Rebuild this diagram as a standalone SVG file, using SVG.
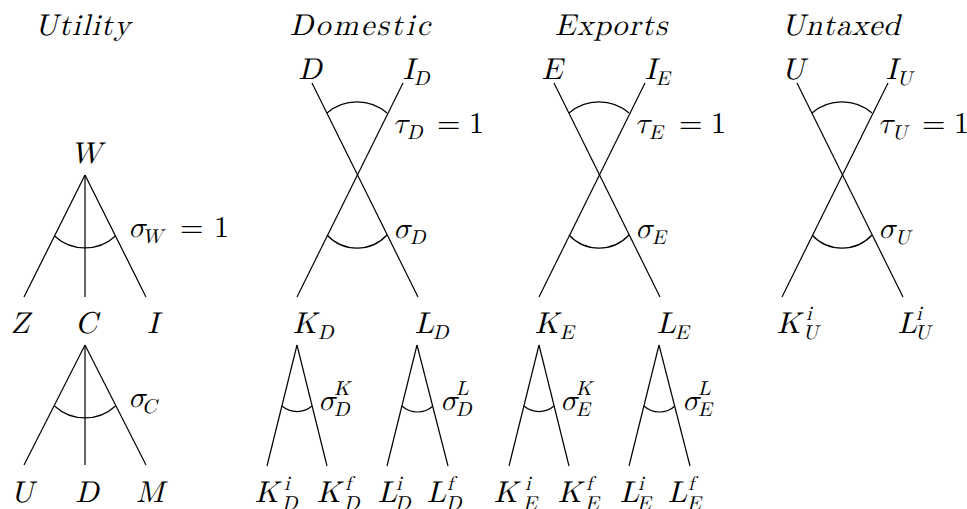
<svg xmlns="http://www.w3.org/2000/svg" width="967" height="509" viewBox="0 0 967 509" font-family="Latin Modern Math, Latin Modern Roman, CMU Serif, Liberation Serif, Nimbus Roman, TeX Gyre Termes, FreeSerif, Noto Serif, DejaVu Serif, Times New Roman, serif">
<style>
text{font-style:italic;font-size:30px;fill:#000}
.s{font-size:20px}
.u{font-style:normal}
.m{text-anchor:middle}
line,path{stroke:#000;stroke-width:1.2;fill:none}
</style>
<rect width="967" height="509" fill="#fff"/>
<g id="titles">
<text x="35" y="35" textLength="95" lengthAdjust="spacing">Utility</text>
<text x="290" y="35" textLength="140" lengthAdjust="spacing">Domestic</text>
<text x="555" y="35" textLength="112" lengthAdjust="spacing">Exports</text>
<text x="782" y="35" textLength="118" lengthAdjust="spacing">Untaxed</text>
</g>
<g id="connectors">
<line x1="85" y1="175" x2="24" y2="297"/>
<line x1="85" y1="175" x2="85" y2="297"/>
<line x1="85" y1="175" x2="146" y2="297"/>
<path d="M54.5,236 A45,45 0 0 0 115.5,236"/>
<line x1="85" y1="345" x2="24" y2="465"/>
<line x1="85" y1="345" x2="85" y2="465"/>
<line x1="85" y1="345" x2="146" y2="465"/>
<path d="M54.5,406 A45,45 0 0 0 115.5,406"/>
<g id="x-domestic">
<line x1="312" y1="83" x2="418" y2="297"/>
<line x1="403" y1="83" x2="297" y2="297"/>
<path d="M327,113 A46,46 0 0 1 387,113"/>
<path d="M327,235 A41,41 0 0 0 387,235"/>
<line x1="297" y1="345" x2="267" y2="466"/>
<line x1="297" y1="345" x2="327" y2="466"/>
<path d="M282,406 A23,23 0 0 0 312,406"/>
<line x1="417" y1="345" x2="387" y2="466"/>
<line x1="417" y1="345" x2="448" y2="466"/>
<path d="M402,406 A23,23 0 0 0 433,406"/>
</g>
<use href="#x-domestic" transform="translate(242,0)"/>
<g transform="translate(485,0)">
<line x1="312" y1="83" x2="418" y2="297"/>
<line x1="403" y1="83" x2="297" y2="297"/>
<path d="M327,113 A46,46 0 0 1 387,113"/>
<path d="M327,235 A41,41 0 0 0 387,235"/>
</g>
</g>
<g id="utility">
<text class="m" x="86" y="163">W</text>
<text x="128" y="237">σ<tspan class="s" x="142" y="243">W</tspan><tspan class="u" x="180" y="237">=</tspan><tspan class="u" x="214" y="237">1</tspan></text>
<text class="m" x="20" y="333">Z</text>
<text class="m" x="86" y="333">C</text>
<text class="m" x="153" y="333">I</text>
<text x="128" y="407">σ<tspan class="s" x="142" y="413">C</tspan></text>
<text class="m" x="22" y="502">U</text>
<text class="m" x="87" y="502">D</text>
<text class="m" x="150" y="502">M</text>
</g>
<g id="domestic">
<text class="m" x="310" y="79">D</text>
<text x="403" y="79">I<tspan class="s" x="414" y="85">D</tspan></text>
<text x="393" y="133">τ<tspan class="s" x="407" y="139">D</tspan><tspan class="u" x="437" y="133">=</tspan><tspan class="u" x="469" y="133">1</tspan></text>
<text x="393" y="238">σ<tspan class="s" x="410" y="244">D</tspan></text>
<text x="293" y="333">K<tspan class="s" x="318" y="339">D</tspan></text>
<text x="415" y="333">L<tspan class="s" x="433" y="339">D</tspan></text>
<text x="318" y="410">σ<tspan class="s" x="334" y="395">K</tspan><tspan class="s" x="334" y="416">D</tspan></text>
<text x="440" y="410">σ<tspan class="s" x="456" y="395">L</tspan><tspan class="s" x="456" y="416">D</tspan></text>
<text x="255" y="502">K<tspan class="s" x="284" y="490">i</tspan><tspan class="s" x="282" y="510">D</tspan></text>
<text x="317" y="502">K<tspan class="s" x="345" y="490">f</tspan><tspan class="s" x="344" y="510">D</tspan></text>
<text x="378" y="502">L<tspan class="s" x="396" y="490">i</tspan><tspan class="s" x="395" y="510">D</tspan></text>
<text x="427" y="502">L<tspan class="s" x="447" y="490">f</tspan><tspan class="s" x="446" y="510">D</tspan></text>
</g>
<g id="exports" transform="translate(242,0)">
<text class="m" x="310" y="79">E</text>
<text x="403" y="79">I<tspan class="s" x="414" y="85">E</tspan></text>
<text x="393" y="133">τ<tspan class="s" x="407" y="139">E</tspan><tspan class="u" x="437" y="133">=</tspan><tspan class="u" x="469" y="133">1</tspan></text>
<text x="393" y="238">σ<tspan class="s" x="410" y="244">E</tspan></text>
<text x="293" y="333">K<tspan class="s" x="318" y="339">E</tspan></text>
<text x="415" y="333">L<tspan class="s" x="433" y="339">E</tspan></text>
<text x="318" y="410">σ<tspan class="s" x="334" y="395">K</tspan><tspan class="s" x="334" y="416">E</tspan></text>
<text x="440" y="410">σ<tspan class="s" x="456" y="395">L</tspan><tspan class="s" x="456" y="416">E</tspan></text>
<text x="252" y="502">K<tspan class="s" x="283" y="490">i</tspan><tspan class="s" x="281" y="510">E</tspan></text>
<text x="316" y="502">K<tspan class="s" x="344" y="490">f</tspan><tspan class="s" x="343" y="510">E</tspan></text>
<text x="378" y="502">L<tspan class="s" x="396" y="490">i</tspan><tspan class="s" x="395" y="510">E</tspan></text>
<text x="426" y="502">L<tspan class="s" x="446" y="490">f</tspan><tspan class="s" x="445" y="510">E</tspan></text>
</g>
<g id="untaxed" transform="translate(485,0)">
<text class="m" x="308" y="79">U</text>
<text x="401" y="79">I<tspan class="s" x="412" y="85">U</tspan></text>
<text x="393" y="133">τ<tspan class="s" x="407" y="139">U</tspan><tspan class="u" x="437" y="133">=</tspan><tspan class="u" x="469" y="133">1</tspan></text>
<text x="393" y="238">σ<tspan class="s" x="410" y="244">U</tspan></text>
<text x="292" y="333">K<tspan class="s" x="321" y="320">i</tspan><tspan class="s" x="318" y="339">U</tspan></text>
<text x="413" y="333">L<tspan class="s" x="431" y="320">i</tspan><tspan class="s" x="430" y="339">U</tspan></text>
</g>
</svg>
